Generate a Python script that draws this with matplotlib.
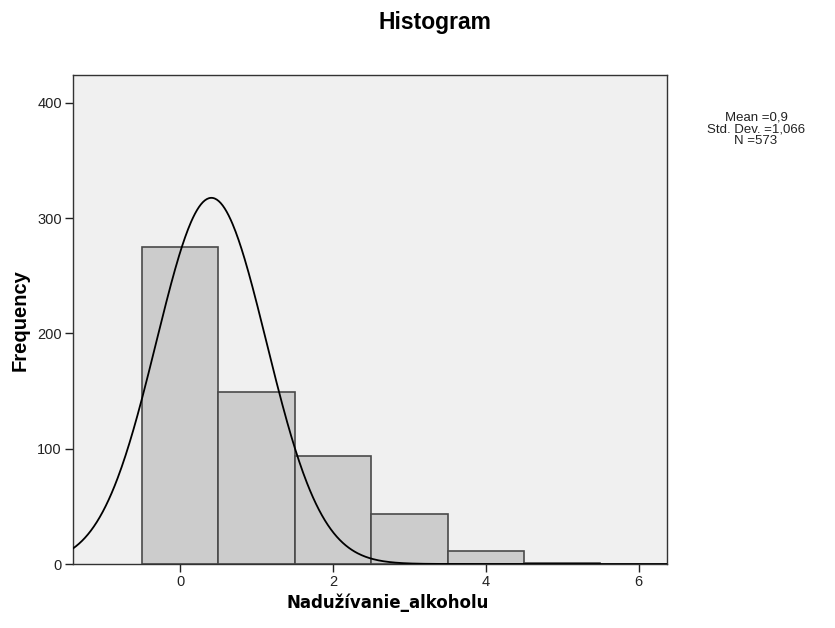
import numpy as np
import matplotlib
matplotlib.use("Agg")
import matplotlib.pyplot as plt

plt.rcParams['font.family'] = ['Liberation Sans', 'DejaVu Sans']

# Histogram counts per value of the variable
values = [0, 1, 2, 3, 4, 5]
counts = [275, 149, 94, 43, 11, 1]

# Normal curve overlay parameters
curve_mean = 0.41
curve_sd = 0.72
n_total = 573
bin_width = 1.0

stats_lines = ["Mean =0,9", "Std. Dev. =1,066", "N =573"]

W, H = 835, 628
fig = plt.figure(figsize=(W / 100, H / 100), dpi=100)
ax = fig.add_axes([73 / W, 1 - 564 / H, (667 - 73) / W, (564 - 75) / H])
ax.set_facecolor('#F0F0F0')

ax.bar(values, counts, width=bin_width, color='#CCCCCC', edgecolor='#4a4a4a',
       linewidth=1.2, zorder=2)

xmin, xmax = -1.40, 6.37
xs = np.linspace(xmin, xmax, 600)
ys = n_total * bin_width / (curve_sd * np.sqrt(2 * np.pi)) * np.exp(-0.5 * ((xs - curve_mean) / curve_sd) ** 2)
ax.plot(xs, ys, color='black', linewidth=1.3, zorder=3)

ax.set_xlim(xmin, xmax)
ax.set_ylim(0, 424)
ax.set_xticks([0, 2, 4, 6])
ax.set_yticks([0, 100, 200, 300, 400])
ax.tick_params(direction='out', length=6, width=1, labelsize=10.5, colors='#222222', pad=2)
for s in ax.spines.values():
    s.set_color('#333333')
    s.set_linewidth(1.0)

fig.text(388 / W, 1 - 603 / H, 'Nadužívanie_alkoholu', ha='center', va='center',
         fontsize=12, fontweight='bold', family=['DejaVu Sans'])
fig.text(20 / W, 1 - 320 / H, 'Frequency', ha='center', va='center', rotation=90,
         fontsize=14.5, fontweight='bold')

fig.text(435 / W, 1 - 22 / H, 'Histogram', ha='center', va='center',
         fontsize=16.5, fontweight='bold')

for i, line in enumerate(stats_lines):
    fig.text(756 / W, 1 - (117 + 12 * i) / H, line, ha='center', va='center',
             fontsize=9.5, color='#222222')

fig.savefig('out.png', dpi=100)
